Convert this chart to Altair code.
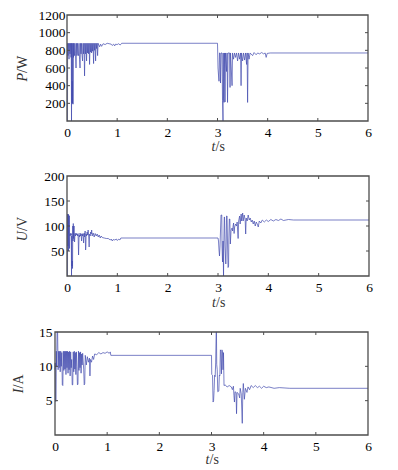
import altair as alt
import pandas as pd

# ---------------- data ----------------
# Panel 1: power P / W
P_t = [0, 0.01, 0.012, 0.02, 0.03, 0.04, 0.05, 0.06, 0.07, 0.08, 0.085, 0.09, 0.095, 0.10, 0.105, 0.11,
       0.115, 0.12, 0.125, 0.13, 0.14, 0.15, 0.16, 0.17, 0.18, 0.19, 0.20, 0.21, 0.22, 0.23, 0.24, 0.25,
       0.26, 0.27, 0.28, 0.29, 0.30, 0.31, 0.32, 0.33, 0.34, 0.35, 0.36, 0.37, 0.38, 0.39, 0.40, 0.41,
       0.42, 0.43, 0.44, 0.45, 0.46, 0.47, 0.48, 0.49, 0.50, 0.51, 0.52, 0.53, 0.54, 0.55, 0.56, 0.57,
       0.58, 0.59, 0.60, 0.61, 0.62, 0.65, 0.67, 0.69, 0.72, 0.76, 0.80, 0.84, 0.88, 0.90, 0.93, 0.95,
       0.97, 1.00, 1.03, 1.06, 1.09,
       3.00, 3.01, 3.02, 3.03, 3.04, 3.05, 3.06, 3.07, 3.09, 3.10, 3.11, 3.115, 3.12, 3.13, 3.14, 3.15,
       3.16, 3.18, 3.19, 3.20, 3.21, 3.24, 3.25, 3.26, 3.29, 3.30, 3.32, 3.34, 3.36, 3.38, 3.40, 3.42,
       3.44, 3.46, 3.47, 3.48, 3.50, 3.52, 3.54, 3.56, 3.58, 3.59, 3.60, 3.61, 3.63, 3.65, 3.70, 3.73,
       3.77, 3.80, 3.84, 3.88, 3.92, 3.95, 3.97, 3.99, 4.05, 6.00]
P_w = [0, 0, 880, 740, 880, 700, 880, 760, 880, 720, 880, 0, 880, 200, 450, 200,
       880, 190, 880, 720, 880, 740, 880, 760, 600, 880, 740, 880, 760, 740, 880, 700,
       600, 880, 760, 880, 740, 680, 880, 760, 880, 510, 880, 760, 880, 680, 880, 770,
       880, 760, 880, 640, 880, 780, 880, 770, 880, 790, 880, 650, 880, 800, 880, 680,
       880, 820, 880, 740, 880, 840, 870, 845, 875, 865, 880, 875, 870, 855, 870, 850,
       870, 865, 875, 860, 880,
       880, 600, 520, 450, 770, 770, 430, 770, 770, 230, 0, 770, 250, 210, 770, 215,
       770, 560, 770, 210, 770, 770, 380, 770, 400, 770, 700, 770, 720, 770, 680, 770,
       700, 770, 400, 770, 680, 770, 690, 770, 640, 770, 210, 770, 700, 770, 740, 775,
       750, 770, 760, 775, 760, 770, 720, 765, 770, 770]

# Panel 2: voltage U / V
U_t = [0, 0.01, 0.012, 0.02, 0.025, 0.03, 0.035, 0.04, 0.045, 0.05, 0.055, 0.06, 0.07, 0.08, 0.085, 0.09,
       0.095, 0.10, 0.105, 0.11, 0.115, 0.12, 0.125, 0.13, 0.14, 0.15, 0.16, 0.17, 0.18, 0.19, 0.20, 0.21,
       0.22, 0.23, 0.24, 0.25, 0.26, 0.27, 0.28, 0.29, 0.30, 0.31, 0.32, 0.33, 0.34, 0.35, 0.36, 0.37,
       0.375, 0.38, 0.39, 0.40, 0.41, 0.42, 0.43, 0.44, 0.45, 0.46, 0.47, 0.48, 0.49, 0.50, 0.52, 0.54,
       0.56, 0.58, 0.60, 0.62, 0.64, 0.66, 0.68, 0.70, 0.74, 0.78, 0.82, 0.86, 0.88, 0.90, 0.92, 0.95,
       0.98, 1.00, 1.03, 1.05, 1.07,
       3.00, 3.01, 3.02, 3.03, 3.04, 3.06, 3.075, 3.08, 3.09, 3.10, 3.11, 3.115, 3.125, 3.13, 3.14, 3.155,
       3.16, 3.17, 3.18, 3.19, 3.20, 3.21, 3.215, 3.225, 3.235, 3.245, 3.26, 3.28, 3.29, 3.30, 3.31, 3.32,
       3.33, 3.35, 3.37, 3.38, 3.40, 3.41, 3.43, 3.44, 3.46, 3.47, 3.49, 3.50, 3.52, 3.54, 3.55, 3.56,
       3.58, 3.60, 3.62, 3.64, 3.66, 3.68, 3.70, 3.72, 3.74, 3.76, 3.78, 3.80, 3.82, 3.85, 3.88, 3.92,
       3.96, 4.00, 4.05, 4.10, 4.15, 4.20, 4.25, 4.30, 4.40, 4.50, 6.00]
U_v = [0, 0, 124, 60, 124, 50, 122, 85, 120, 55, 85, 80, 85, 82, 85, 0,
       80, 20, 30, 15, 100, 70, 105, 75, 100, 68, 85, 80, 86, 82, 84, 80,
       85, 42, 82, 78, 86, 80, 84, 70, 85, 80, 84, 66, 86, 78, 90, 52,
       60, 84, 80, 88, 82, 92, 80, 58, 84, 80, 88, 84, 92, 80, 86, 78,
       85, 80, 84, 78, 82, 76, 80, 77, 76, 75, 75, 72, 74, 70, 73, 72,
       74, 71, 74, 72, 76,
       76, 70, 52, 40, 60, 122, 122, 60, 28, 70, 0, 60, 118, 118, 60, 24,
       40, 120, 120, 60, 17, 20, 70, 114, 114, 64, 92, 96, 90, 100, 106, 85,
       98, 104, 100, 108, 75, 110, 120, 104, 124, 110, 126, 110, 122, 112, 84, 116,
       110, 122, 112, 116, 108, 112, 104, 110, 100, 108, 104, 98, 110, 106, 112, 108,
       112, 109, 113, 110, 113, 111, 114, 111, 113, 112, 112]

# Panel 3: current I / A
I_t = [0, 0.005, 0.01, 0.02, 0.025, 0.03, 0.035, 0.04, 0.05, 0.055, 0.06, 0.07, 0.08, 0.09, 0.10, 0.11,
       0.12, 0.13, 0.14, 0.15, 0.16, 0.17, 0.18, 0.19, 0.20, 0.21, 0.22, 0.23, 0.24, 0.25, 0.26, 0.27,
       0.28, 0.29, 0.30, 0.31, 0.32, 0.33, 0.34, 0.35, 0.36, 0.37, 0.38, 0.39, 0.40, 0.41, 0.42, 0.43,
       0.44, 0.45, 0.46, 0.47, 0.48, 0.49, 0.50, 0.51, 0.52, 0.53, 0.55, 0.56, 0.57, 0.58, 0.60, 0.62,
       0.64, 0.66, 0.67, 0.68, 0.70, 0.72, 0.74, 0.76, 0.80, 0.84, 0.88, 0.92, 0.96, 1.00, 1.04, 1.06,
       1.07,
       3.00, 3.005, 3.02, 3.03, 3.04, 3.05, 3.06, 3.07, 3.08, 3.09, 3.095, 3.10, 3.11, 3.12, 3.14, 3.15,
       3.16, 3.17, 3.18, 3.19, 3.20, 3.21, 3.22, 3.23, 3.24, 3.26, 3.30, 3.34, 3.38, 3.40, 3.42, 3.43,
       3.44, 3.45, 3.47, 3.48, 3.49, 3.52, 3.54, 3.55, 3.57, 3.59, 3.60, 3.61, 3.63, 3.65, 3.68, 3.70,
       3.73, 3.76, 3.80, 3.84, 3.88, 3.92, 3.96, 4.00, 4.05, 4.10, 4.20, 4.30, 4.50, 6.00]
I_a = [9.5, 10.5, 4.9, 4.9, 12.2, 10.0, 12.3, 15.0, 15.0, 12.2, 9.5, 12.2, 9.8, 12.2, 9.2, 12.2,
       10.0, 12.0, 7.3, 7.2, 12.2, 9.4, 12.2, 9.6, 12.2, 8.8, 12.2, 9.8, 12.2, 9.0, 12.1, 9.5,
       12.2, 8.6, 12.1, 9.8, 11.0, 7.3, 7.3, 12.1, 9.2, 12.2, 9.6, 12.0, 8.8, 12.1, 10.0, 7.3,
       7.4, 12.2, 9.4, 12.0, 9.8, 12.1, 9.0, 11.8, 10.2, 11.9, 9.6, 7.3, 7.5, 11.6, 10.2, 11.4,
       10.6, 11.2, 8.6, 11.0, 10.6, 11.5, 11.0, 11.8, 11.7, 12.0, 11.8, 12.0, 11.9, 12.1, 11.9, 12.1,
       11.6,
       11.6, 8.8, 8.7, 4.8, 5.0, 6.5, 8.7, 8.5, 10.5, 15.0, 15.0, 10.3, 9.5, 6.3, 6.4, 8.7,
       8.6, 12.4, 12.2, 8.9, 12.4, 12.2, 9.5, 12.0, 7.2, 7.3, 7.0, 7.2, 7.0, 6.6, 7.1, 5.8,
       4.8, 6.3, 6.2, 3.1, 6.2, 6.0, 5.4, 6.8, 6.0, 1.7, 6.2, 7.5, 5.2, 6.8, 6.2, 7.0,
       6.6, 7.2, 6.9, 7.2, 6.9, 7.1, 6.8, 7.1, 6.9, 7.0, 6.8, 6.9, 6.8, 6.8]

# axis tick values
x_labels = [0, 1, 2, 3, 4, 5, 6]
x_inner = [1, 2, 3, 4, 5]
P_labels = [200, 400, 600, 800, 1000, 1200]
P_inner = [200, 400, 600, 800, 1000]
U_labels = [50, 100, 150, 200]
U_inner = [50, 100, 150]
I_labels = [5, 10, 15]
I_inner = [5, 10]

LINE = "#4049ad"
FRAME = "#4d4d4d"
FONT = "Liberation Serif"
TITLE_C = "#333333"
LAB = 13.5


def panel(t, v, ydom, ylabels, yinner, w, h, ysym, yunit, title_dx, lab_pad, xt_dy, shift=0, zero_pad=3):
    """shift: horizontal offset (px, <=0) of the whole drawn panel relative to the grid origin."""
    df = pd.DataFrame({"t": t, "v": v, "i": list(range(len(t)))})
    xs = alt.Scale(domain=[0, 6], nice=False, zero=False)
    ys = alt.Scale(domain=ydom, nice=False, zero=False)
    nb = "\u00a0" * zero_pad
    xax = alt.Axis(values=x_labels, title=None, ticks=False, domain=False, grid=False,
                   labelPadding=4, labelFlush=False, labelFont=FONT, labelFontSize=LAB,
                   labelColor="black", format="d", labelOffset=shift,
                   labelExpr=f"datum.value == 0 ? '{nb}0' : datum.label")
    yax = alt.Axis(values=ylabels, title=None, ticks=False, domain=False, grid=False,
                   labelPadding=lab_pad, labelFont=FONT, labelFontSize=LAB,
                   labelColor="black", format="d", offset=-shift)
    line = alt.Chart(df).mark_line(color=LINE, strokeWidth=0.7, xOffset=shift).encode(
        x=alt.X("t:Q", scale=xs, axis=xax),
        y=alt.Y("v:Q", scale=ys, axis=yax),
        order=alt.Order("i:Q"),
    )
    xt = pd.DataFrame({"t": x_inner})
    yt = pd.DataFrame({"v": yinner})
    vis_w = w + shift
    frame = alt.Chart(pd.DataFrame({"a": [0]})).mark_rect(
        filled=False, stroke=FRAME, strokeWidth=1.3).encode(
        x=alt.value(shift), x2=alt.value(vis_w), y=alt.value(0), y2=alt.value(h))
    bot = alt.Chart(xt).mark_rule(color=FRAME, strokeWidth=1, xOffset=shift).encode(
        x=alt.X("t:Q", scale=xs, axis=xax), y=alt.value(h), y2=alt.value(h - 3))
    top = alt.Chart(xt).mark_rule(color=FRAME, strokeWidth=1, xOffset=shift).encode(
        x=alt.X("t:Q", scale=xs, axis=xax), y=alt.value(0), y2=alt.value(3))
    lft = alt.Chart(yt).mark_rule(color=FRAME, strokeWidth=1).encode(
        y=alt.Y("v:Q", scale=ys, axis=yax), x=alt.value(shift), x2=alt.value(shift + 3))
    rgt = alt.Chart(yt).mark_rule(color=FRAME, strokeWidth=1).encode(
        y=alt.Y("v:Q", scale=ys, axis=yax), x=alt.value(vis_w), x2=alt.value(vis_w - 3))
    one = pd.DataFrame({"a": [0]})
    yt1 = alt.Chart(one).mark_text(text=ysym, font=FONT, fontSize=14, fontStyle="italic",
                                   angle=270, align="right", baseline="middle", color=TITLE_C).encode(
        x=alt.value(title_dx), y=alt.value(h / 2 + 5))
    yt2 = alt.Chart(one).mark_text(text=yunit, font=FONT, fontSize=14,
                                   angle=270, align="left", baseline="middle", color=TITLE_C).encode(
        x=alt.value(title_dx), y=alt.value(h / 2 + 5))
    cx = shift + w / 2 - 2
    xt1 = alt.Chart(one).mark_text(text="t", font=FONT, fontSize=14, fontStyle="italic",
                                   align="right", baseline="middle", color=TITLE_C).encode(
        x=alt.value(cx), y=alt.value(h + xt_dy))
    xt2 = alt.Chart(one).mark_text(text="/s", font=FONT, fontSize=14,
                                   align="left", baseline="middle", color=TITLE_C).encode(
        x=alt.value(cx), y=alt.value(h + xt_dy))
    layers = [line, bot, top, lft, rgt, frame, yt1, yt2, xt1, xt2]
    return alt.layer(*layers).properties(width=w, height=h)


p1 = panel(P_t, P_w, [0, 1200], P_labels, P_inner, 301, 106, "P", "/W", -44, 2, 25.5)
p2 = panel(U_t, U_v, [0, 200], U_labels, U_inner, 302, 100, "U", "/V", -44, 3, 27.0)
p3 = panel(I_t, I_a, [0, 15], I_labels, I_inner, 313, 103, "I", "/A", -48, 3, 25, shift=-12, zero_pad=4)

chart = alt.concat(p1, p2, p3, columns=1, spacing=15).properties(
    padding={"left": 4, "top": 0, "right": 5, "bottom": 5}
).configure_view(
    stroke=None
)

chart.save("out.html", embed_options={"renderer": "svg", "actions": False})
